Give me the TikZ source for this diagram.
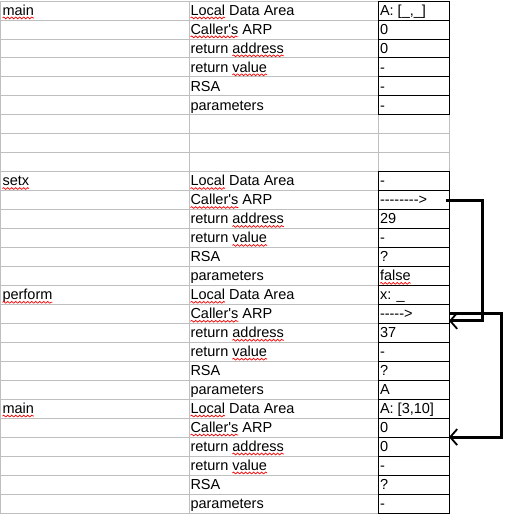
\documentclass[tikz,border=0pt]{standalone}
\usepackage{fontspec}
\newfontfamily\cellfont{Liberation Sans}
\usetikzlibrary{arrows.meta,decorations.pathmorphing}
\tikzset{
  txt/.style={inner sep=0pt, outer sep=0pt, anchor=base west, font=\cellfont\fontsize{14.5}{17}\selectfont},
  squig/.style={draw=red, line width=0.7pt, decorate, decoration={snake, amplitude=0.9pt, segment length=4pt}},
  gridline/.style={draw=gray!50, line width=0.8pt},
  cellbox/.style={draw=black, line width=0.8pt, minimum width=71pt, minimum height=18.96pt, inner sep=0pt, outer sep=0pt},
  link/.style={line width=3pt, line join=miter, -{Straight Barb[length=7pt,width=16pt,line width=1.8pt]}}
}
\newcommand\rowbase[2]{\pgfmathsetmacro#1{1+18.96*(#2)+14.2}}
\newcommand\rowmid[2]{\pgfmathsetmacro#1{1+18.96*(#2)+9.48}}
\newcommand\wavy[1]{\draw[squig] ([yshift=-2.7pt]#1.base west) -- ([yshift=-2.7pt]#1.base east);}
\newcommand\valcell[4]{\rowmid\ymid{#2}\rowbase\ybase{#2}%
  \node[cellbox] (#1-c#3) at (413.5,\ymid) {};
  \node[txt] (#1-v#3) at (380,\ybase) {#4};}
\newcommand\stackframe[9]{%
  \rowbase\yy{#1}\node[txt] (#2-nm) at (2.5,\yy) {#3};\wavy{#2-nm}
  \node[txt] (#2-l0) at (190.5,\yy) {Local};\wavy{#2-l0}
  \node[txt] (#2-l0b) at ([xshift=4pt]#2-l0.base east) {Data Area};
  \rowbase\yy{#1+1}\node[txt] (#2-l1) at (190.5,\yy) {Caller's};\wavy{#2-l1}
  \node[txt] (#2-l1b) at ([xshift=4pt]#2-l1.base east) {ARP};
  \rowbase\yy{#1+2}\node[txt] (#2-l2) at (190.5,\yy) {return};
  \node[txt] (#2-l2b) at ([xshift=4pt]#2-l2.base east) {address};\wavy{#2-l2b}
  \rowbase\yy{#1+3}\node[txt] (#2-l3) at (190.5,\yy) {return};
  \node[txt] (#2-l3b) at ([xshift=4pt]#2-l3.base east) {value};\wavy{#2-l3b}
  \rowbase\yy{#1+4}\node[txt] (#2-l4) at (190.5,\yy) {RSA};
  \rowbase\yy{#1+5}\node[txt] (#2-l5) at (190.5,\yy) {parameters};
  \valcell{#2}{#1}{0}{#4}
  \valcell{#2}{#1+1}{1}{#5}
  \valcell{#2}{#1+2}{2}{#6}
  \valcell{#2}{#1+3}{3}{#7}
  \valcell{#2}{#1+4}{4}{#8}
  \valcell{#2}{#1+5}{5}{#9}
}
\begin{document}
\begin{tikzpicture}[x=1pt,y=-1pt]
\useasboundingbox (0,0) rectangle (528,515);
% spreadsheet grid
\foreach \k in {0,...,27} \draw[gridline] (0,{1+18.96*\k}) -- (378,{1+18.96*\k});
\foreach \k in {6,...,9} \draw[gridline] (378,{1+18.96*\k}) -- (449,{1+18.96*\k});
\draw[gridline] (0.5,1) -- (0.5,512.9);
\draw[gridline] (189.5,1) -- (189.5,512.9);
\draw[gridline] (378,1) -- (378,512.9);
\draw[gridline] (449,{1+18.96*6}) -- (449,{1+18.96*9});
% frames
\stackframe{0}{a}{main}{A: [\_,\_]}{0}{0}{-}{-}{-}
\stackframe{9}{b}{setx}{-}{-------->}{29}{-}{?}{false}
\wavy{b-v5}
\stackframe{15}{c}{perform}{x: \_}{----->}{37}{-}{?}{A}
\stackframe{21}{d}{main}{A: [3,10]}{0}{0}{-}{?}{-}
% links
\coordinate (s1) at ([xshift=-3.5pt]b-c1.east);
\coordinate (e1) at ([yshift=-7pt]c-c1.east);
\coordinate (j1) at (482,0);
\draw[link] (s1) -| (j1 |- e1) -- (e1);
\coordinate (s2) at (c-c1.east);
\coordinate (e2) at (d-c1.south east);
\coordinate (j2) at (501,0);
\draw[link] (s2) -| (j2 |- e2) -- (e2);
\end{tikzpicture}
\end{document}
